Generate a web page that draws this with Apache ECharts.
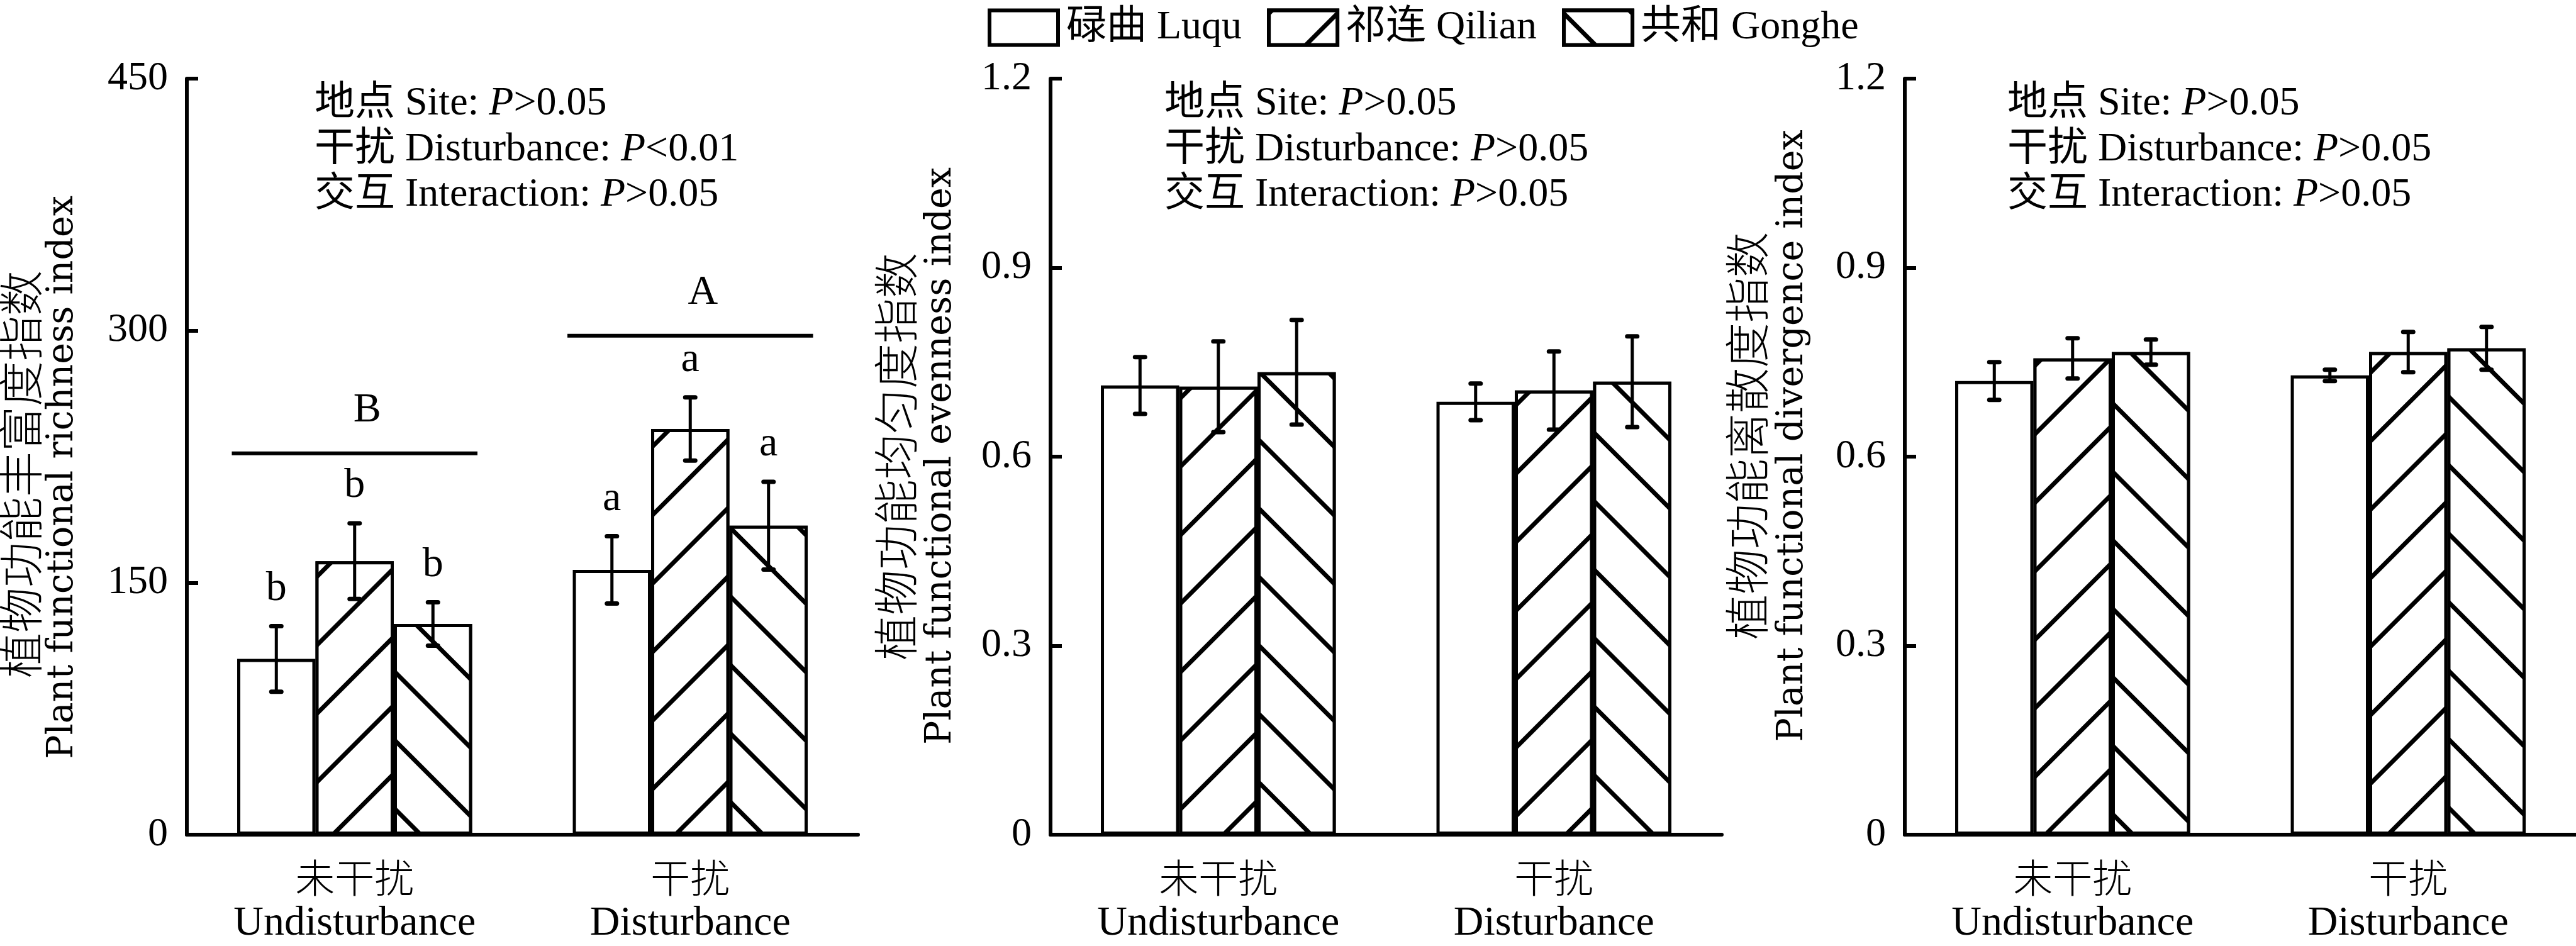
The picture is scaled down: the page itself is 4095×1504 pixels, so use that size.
<!DOCTYPE html>
<html><head><meta charset="utf-8">
<script src="https://cdn.jsdelivr.net/npm/echarts@6/dist/echarts.min.js"></script>
<style>html,body{margin:0;padding:0;background:#fff}#c{width:4095px;height:1504px}</style>
</head><body><div id="c"></div>
<script>
// ---------------- data ----------------
const sites = ['碌曲 Luqu', '祁连 Qilian', '共和 Gonghe'];
const catZh = ['未干扰', '干扰'];
const catEn = ['Undisturbance', 'Disturbance'];

// functional richness
const richLuqu = [104.6, 157.6];
const richQilian = [162.8, 241.5];
const richGonghe = [125.4, 183.9];
const richLuquErr = [19.5, 20.0];
const richQilianErr = [22.5, 18.8];
const richGongheErr = [12.9, 26.1];
const richLuquLetter = ['b', 'a'];
const richQilianLetter = ['b', 'a'];
const richGongheLetter = ['b', 'a'];
const richGroupLetter = ['B', 'A'];
const richGroupLine = [227, 297];

// functional evenness
const evenLuqu = [0.713, 0.687];
const evenQilian = [0.711, 0.705];
const evenGonghe = [0.734, 0.719];
const evenLuquErr = [0.045, 0.029];
const evenQilianErr = [0.072, 0.062];
const evenGongheErr = [0.083, 0.072];

// functional divergence
const divLuqu = [0.720, 0.729];
const divQilian = [0.756, 0.766];
const divGonghe = [0.766, 0.772];
const divLuquErr = [0.030, 0.009];
const divQilianErr = [0.032, 0.032];
const divGongheErr = [0.020, 0.034];

const yMax = [450, 1.2, 1.2];
const yInterval = [150, 0.3, 0.3];
const titleZh = ['植物功能丰富度指数', '植物功能均匀度指数', '植物功能离散度指数'];
const titleEn = ['Plant functional richness index', 'Plant functional evenness index', 'Plant functional divergence index'];
const sigSite = ['>0.05', '>0.05', '>0.05'];
const sigDist = ['<0.01', '>0.05', '>0.05'];
const sigInter = ['>0.05', '>0.05', '>0.05'];

// ---------------- layout / style ----------------
const SERIF = "'Liberation Serif','Noto Sans CJK SC',serif";
const CJK = "'Noto Sans CJK SC',sans-serif";
const gridLeft = [297, 1670, 3028];
const gridW = 1067, gridTop = 125, gridH = 1202;
const annLeft = [500, 1851, 3191];
const titleZhX = [33, 1424, 2777], titleEnX = [100, 1496, 2850];
const titleZhY = [754, 726, 693], titleEnY = [759, 725, 693];

const means = [[richLuqu, richQilian, richGonghe], [evenLuqu, evenQilian, evenGonghe], [divLuqu, divQilian, divGonghe]];
const errs = [[richLuquErr, richQilianErr, richGongheErr], [evenLuquErr, evenQilianErr, evenGongheErr], [divLuquErr, divQilianErr, divGongheErr]];
const letters = [[richLuquLetter, richQilianLetter, richGongheLetter], null, null];

const hatch = (rot) => ({
  symbol: 'rect', symbolSize: 1, symbolKeepAspect: false,
  color: '#000', backgroundColor: '#fff',
  dashArrayX: [10, 0], dashArrayY: [7, 70], rotation: rot
});
const decals = [null, hatch(-Math.PI / 4), hatch(Math.PI / 4)];

const grids = [], xAxes = [], yAxes = [], series = [], graphics = [];
for (let p = 0; p < 3; p++) {
  grids.push({ left: gridLeft[p], top: gridTop, width: gridW, height: gridH });
  xAxes.push({
    type: 'category', gridIndex: p, data: catEn,
    axisLine: { show: true, lineStyle: { color: '#000', width: 6 } },
    axisTick: { show: false },
    axisLabel: {
      margin: 32, interval: 0,
      formatter: (v, i) => '{zh|' + catZh[i] + '}\n{en|' + catEn[i] + '}',
      rich: {
        zh: { fontFamily: CJK, fontSize: 63, color: '#000', lineHeight: 73, fontWeight: 300 },
        en: { fontFamily: SERIF, fontSize: 66, color: '#000', lineHeight: 73 }
      }
    }
  });
  yAxes.push({
    type: 'value', gridIndex: p, min: 0, max: yMax[p], interval: yInterval[p],
    axisLine: { show: true, lineStyle: { color: '#000', width: 6 } },
    axisTick: { show: true, inside: true, length: 18, lineStyle: { color: '#000', width: 6 } },
    splitLine: { show: false },
    axisLabel: { margin: 30, fontFamily: SERIF, fontSize: 64, color: '#000' }
  });
  for (let s = 0; s < 3; s++) {
    const itemStyle = { color: '#fff', borderColor: '#000', borderWidth: 5 };
    if (decals[s]) itemStyle.decal = decals[s];
    series.push({
      type: 'bar', name: sites[s], xAxisIndex: p, yAxisIndex: p,
      data: means[p][s], barGap: '0%', barCategoryGap: '30%',
      itemStyle: itemStyle, emphasis: { disabled: true }, z: 2
    });
    const lt = letters[p] ? letters[p][s] : null;
    series.push({
      type: 'custom', name: sites[s], xAxisIndex: p, yAxisIndex: p, z: 3, silent: true,
      encode: { x: 0, y: 1 },
      data: means[p][s].map((m, i) => [i, m, errs[p][s][i]]),
      renderItem: (params, api) => {
        const i = api.value(0), m = api.value(1), e = api.value(2);
        const band = api.size([1, 0])[0];
        const bw = band * 0.7 / 3;
        const x = api.coord([i, m])[0] + (s - 1) * bw;
        const yt = api.coord([i, m + e])[1];
        const yb = api.coord([i, m - e])[1];
        const st = { stroke: '#000', lineWidth: 5 };
        const cap = { stroke: '#000', lineWidth: 7, lineCap: 'round' };
        const ch = [
          { type: 'line', shape: { x1: x, y1: yt, x2: x, y2: yb }, style: st },
          { type: 'line', shape: { x1: x - 8, y1: yt, x2: x + 8, y2: yt }, style: cap },
          { type: 'line', shape: { x1: x - 8, y1: yb, x2: x + 8, y2: yb }, style: cap }
        ];
        if (lt) ch.push({ type: 'text', x: x, y: yt - 26, style: { text: lt[params.dataIndex], fontFamily: SERIF, fontSize: 66, fill: '#000', align: 'center', verticalAlign: 'bottom' } });
        return { type: 'group', children: ch };
      }
    });
  }
  // annotation
  graphics.push({
    type: 'text', left: annLeft[p], top: 129, z: 10,
    style: {
      text: '地点 Site: {i|P}' + sigSite[p] + '\n干扰 Disturbance: {i|P}' + sigDist[p] + '\n交互 Interaction: {i|P}' + sigInter[p],
      fontFamily: SERIF, fontSize: 64, lineHeight: 72.5, fill: '#000',
      rich: { i: { fontFamily: SERIF, fontStyle: 'italic', fontSize: 64, lineHeight: 72.5, fill: '#000' } }
    }
  });
  graphics.push({
    type: 'text', x: titleZhX[p], y: titleZhY[p], rotation: Math.PI / 2, z: 10,
    style: { text: titleZh[p], fontFamily: CJK, fontSize: 72, fontWeight: 300, fill: '#000', align: 'center', verticalAlign: 'middle' }
  });
  graphics.push({
    type: 'text', x: titleEnX[p], y: titleEnY[p], rotation: Math.PI / 2, z: 10,
    style: { text: titleEn[p], fontFamily: "'DejaVu Serif',serif", fontSize: 57, fill: '#000', align: 'center', verticalAlign: 'middle' }
  });
}
// group brackets (richness panel)
series.push({
  type: 'custom', xAxisIndex: 0, yAxisIndex: 0, z: 3, silent: true,
  encode: { x: 0, y: 1 },
  data: richGroupLine.map((v, i) => [i, v]),
  renderItem: (params, api) => {
    const i = api.value(0), v = api.value(1);
    const band = api.size([1, 0])[0];
    const c = api.coord([i, v]);
    const hw = band * 0.366;
    return {
      type: 'group', children: [
        { type: 'line', shape: { x1: c[0] - hw, y1: c[1], x2: c[0] + hw, y2: c[1] }, style: { stroke: '#000', lineWidth: 6 } },
        { type: 'text', x: c[0] + 20, y: c[1] - 68, style: { text: richGroupLetter[params.dataIndex], fontFamily: SERIF, fontSize: 66, fill: '#000', align: 'center', verticalAlign: 'middle' } }
      ]
    };
  }
});

const chart = echarts.init(document.getElementById('c'), null, { renderer: 'canvas' });
chart.setOption({
  animation: false,
  backgroundColor: '#fff',
  legend: {
    data: sites, left: 1565, top: 7, icon: 'rect', itemWidth: 109, itemHeight: 55, itemGap: 40,
    selectedMode: false,
    itemStyle: { borderColor: '#000', borderWidth: 6 },
    textStyle: { fontFamily: SERIF, fontSize: 64, color: '#000', padding: [0, 0, 0, 8] }
  },
  grid: grids, xAxis: xAxes, yAxis: yAxes, series: series, graphic: graphics
});
</script></body></html>
